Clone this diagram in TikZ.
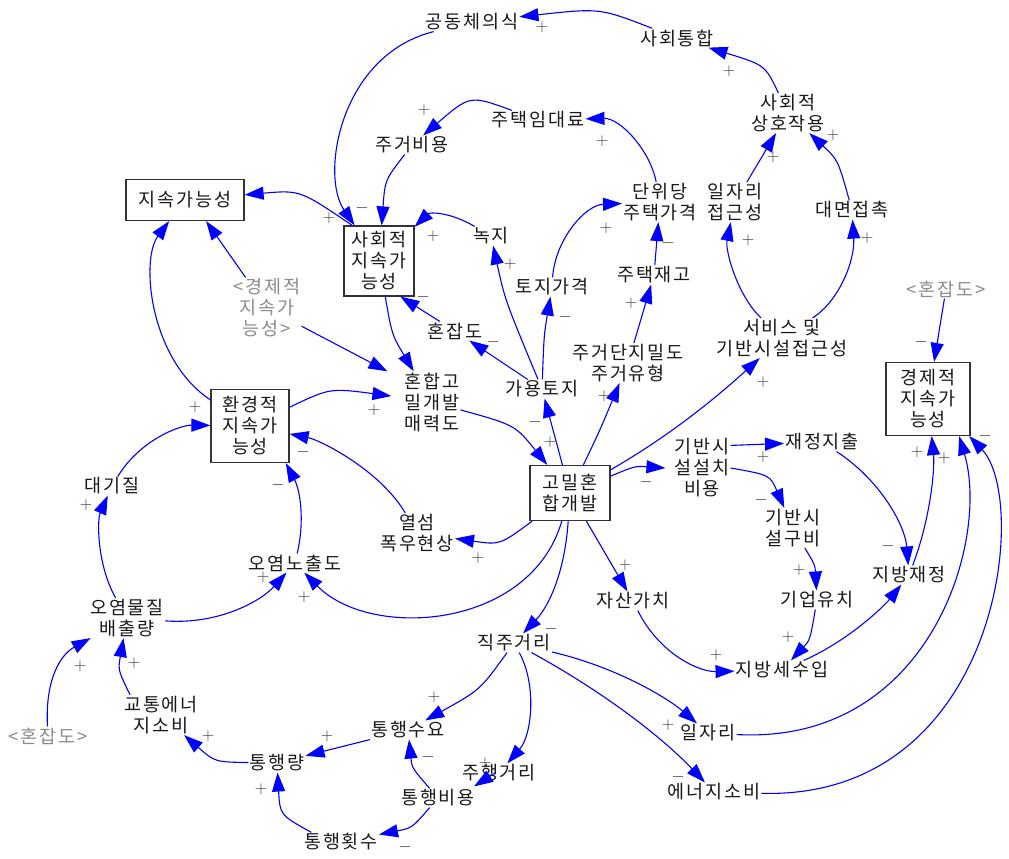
\documentclass[tikz,border=0pt]{standalone}
\usepackage{fontspec}
\newfontfamily\kr[LetterSpace=10]{Noto Sans CJK KR}
\usetikzlibrary{arrows.meta}
\begin{document}
\begin{tikzpicture}[x=1pt,y=-1pt,
  v/.style={font=\kr\fontsize{18.5}{21}\selectfont, align=center, inner sep=1pt, text=black!90},
  bx/.style={v, draw=black!80, line width=1.2pt, inner sep=0pt},
  gr/.style={v, text=black!45},
  arr/.style={draw=blue, line width=1.1pt, -{Triangle[length=19pt,width=13pt]}},
  sg/.style={font=\fontsize{16}{16}\selectfont, text=black!80, inner sep=0pt}]
\useasboundingbox (0,0) rectangle (1009,859);

% ---- nodes ----
\node[v] (gd) at (472,22) {공동체의식};
\node[v] (sh) at (677,38) {사회통합};
\node[v] (jr) at (538,120) {주택임대료};
\node[v] (jb) at (412,145) {주거비용};
\node[v] (ss) at (788,113) {사회적\\상호작용};
\node[v] (dp) at (660,202) {단위당\\주택가격};
\node[v] (ja) at (735,202) {일자리\\접근성};
\node[v] (dm) at (852,210) {대면접촉};
\node[bx, minimum width=118pt, minimum height=41pt] (sus) at (185,200) {지속가능성};
\node[bx, minimum width=70pt, minimum height=70pt] (soc) at (379,261) {사회적\\지속가\\능성};
\node[v] (nj) at (491,236) {녹지};
\node[v] (tg) at (552,287) {토지가격};
\node[v] (jg) at (654,275) {주택재고};
\node[v] (jd) at (628,363) {주거단지밀도\\주거유형};
\node[v] (hj) at (455,331) {혼잡도};
\node[v] (gy) at (542,389) {가용토지};
\node[v] (sv) at (782,338) {서비스 및\\기반시설접근성};
\node[gr] (eg) at (267,308) {<경제적\\지속가\\능성>};
\node[v] (hm) at (432,402) {혼합고\\밀개발\\매력도};
\node[gr] (hj2) at (946,289) {<혼잡도>};
\node[bx, minimum width=84pt, minimum height=73pt] (eco) at (928,399) {경제적\\지속가\\능성};
\node[bx, minimum width=78pt, minimum height=73pt] (env) at (250,426) {환경적\\지속가\\능성};
\node[bx, minimum width=80pt, minimum height=55pt] (dev) at (570,493) {고밀혼\\합개발};
\node[v] (dg) at (112,486) {대기질};
\node[v] (on) at (295,563) {오염노출도};
\node[v] (ys) at (417,533) {열섬\\폭우현상};
\node[v] (gb) at (702,468) {기반시\\설설치\\비용};
\node[v] (jj) at (822,442) {재정지출};
\node[v] (gg) at (793,528) {기반시\\설구비};
\node[v] (gu) at (817,600) {기업유치};
\node[v] (jf) at (909,575) {지방재정};
\node[v] (js) at (633,601) {자산가치};
\node[v] (jt) at (782,670) {지방세수입};
\node[v] (jk) at (514,643) {직주거리};
\node[v] (il) at (708,733) {일자리};
\node[v] (en) at (714,792) {에너지소비};
\node[v] (ts) at (408,730) {통행수요};
\node[v] (jh) at (499,773) {주행거리};
\node[v] (tb) at (438,798) {통행비용};
\node[v] (th) at (341,842) {통행횟수};
\node[v] (tr) at (277,763) {통행량};
\node[v] (ge) at (161,715) {교통에너\\지소비};
\node[gr] (hj3) at (48,736) {<혼잡도>};
\node[v] (om) at (127,618) {오염물질\\배출량};

% ---- connectors ----
\draw[arr] (sh) .. controls (600,8) .. (gd);
\draw[arr] (ss) .. controls (765,65) .. (sh);
\draw[arr] (gd) .. controls (340,55) and (320,175) .. (soc);
\draw[arr] (jr) .. controls (470,95) .. (jb);
\draw[arr] (dp) .. controls (650,150) and (620,118) .. (jr);
\draw[arr] (jb) .. controls (385,180) .. (soc);
\draw[arr] (nj) .. controls (450,212) and (430,212) .. (soc);
\draw[arr] (hj) -- (soc.-59);
\draw[arr] (soc.127) .. controls (300,190) .. (sus);
\draw[arr] (soc) .. controls (392,335) .. (hm);
\draw[arr] (eg) -- (sus.-45);
\draw[arr] (eg) -- ([xshift=-16pt]hm.north west);
\draw[arr] (env) .. controls (150,360) and (140,260) .. (sus);
\draw[arr] (env) .. controls (330,388) .. ([xshift=-12pt,yshift=6pt]hm.west);
\draw[arr] (hm) .. controls (515,425) .. (dev);
\draw[arr] (dev) -- (gy);
\draw[arr] (gy) .. controls (505,300) .. (nj);
\draw[arr] (gy) -- (hj);
\draw[arr] (gy) .. controls (544,335) .. (tg);
\draw[arr] (tg) .. controls (555,240) and (585,205) .. (dp);
\draw[arr] (jg) -- (dp);
\draw[arr] (jd) -- (jg);
\draw[arr] (dev) .. controls (600,430) .. (jd);
\draw[arr] (sv) .. controls (737,295) and (725,250) .. (ja);
\draw[arr] (sv) .. controls (840,300) and (855,260) .. (dm);
\draw[arr] (ja) -- (ss);
\draw[arr] (dm) .. controls (838,160) .. (ss);
\draw[arr] (dev) .. controls (680,430) and (730,385) .. (sv);
\draw[arr] (hj2) -- (eco);
\draw[arr] (dev) .. controls (635,466) .. ([xshift=-8pt]gb.west);
\draw[arr] ([yshift=-8pt]gb.north east) -- (jj);
\draw[arr] (gb.east) .. controls (770,475) .. (gg);
\draw[arr] (jj) .. controls (880,480) and (905,525) .. (jf);
\draw[arr] (gg) .. controls (815,565) .. (gu);
\draw[arr] (gu) .. controls (810,640) .. (jt);
\draw[arr] (jt) .. controls (850,640) and (885,605) .. (jf);
\draw[arr] (js) .. controls (660,655) and (700,672) .. (jt);
\draw[arr] (dev) -- (js);
\draw[arr] (jf) .. controls (930,520) and (935,470) .. (eco);
\draw[arr] (il) .. controls (930,745) and (990,540) .. (eco.-50);
\draw[arr] (en) .. controls (1000,800) and (1030,500) .. (eco.-42);
\draw[arr] (dev) .. controls (500,545) .. (ys);
\draw[arr] (ys) .. controls (380,470) and (320,440) .. (env);
\draw[arr] (on) .. controls (305,520) and (300,490) .. (env.-46);
\draw[arr] (dev) .. controls (530,630) and (370,640) .. (on);
\draw[arr] (om) .. controls (220,625) and (262,600) .. (on);
\draw[arr] (om) .. controls (97,565) and (97,520) .. (dg);
\draw[arr] (dg) .. controls (140,440) and (180,425) .. (env);
\draw[arr] (dev) .. controls (565,570) and (550,605) .. (jk);
\draw[arr] (jk) .. controls (480,690) .. (ts);
\draw[arr] (jk) .. controls (537,685) and (532,735) .. (jh);
\draw[arr] (jk) .. controls (620,668) and (670,700) .. (il);
\draw[arr] (jk) .. controls (600,690) and (660,735) .. (en);
\draw[arr] (tb) .. controls (412,768) .. (ts);
\draw[arr] ([xshift=-4pt]jh.center) -- ([xshift=-2pt,yshift=2pt]tb.north east);
\draw[arr] (tb) .. controls (412,828) .. (th);
\draw[arr] (ts) -- (tr);
\draw[arr] (th.162) .. controls (280,815) .. (tr);
\draw[arr] (tr) .. controls (215,762) .. (ge);
\draw[arr] (ge.147) .. controls (118,670) .. (om);
\draw[arr] (hj3) .. controls (45,680) and (60,655) .. (om);

% ---- polarity signs ----
\foreach \x/\y in {542/27, 729/71, 329/218, 424/110, 602/141, 433/236, 374/410,
  550/442, 510/264, 606/228, 631/303, 604/396, 748/240, 867/238, 773/157,
  833/135, 763/382, 763/457, 799/570, 788/637, 716/655, 625/565, 917/452,
  944/458, 478/558, 304/597, 263/577, 86/505, 195/407, 434/697, 485/763,
  668/725, 327/736, 261/789, 208/736, 134/663, 80/666}
  \node[sg] at (\x,\y) {$+$};
\foreach \x/\y in {362/208, 423/297, 535/422, 493/342, 565/317, 668/243,
  921/342, 646/482, 761/500, 888/546, 985/436, 303/452, 278/485, 551/629,
  678/777, 428/757, 405/847}
  \node[sg] at (\x,\y) {$-$};
\end{tikzpicture}
\end{document}
